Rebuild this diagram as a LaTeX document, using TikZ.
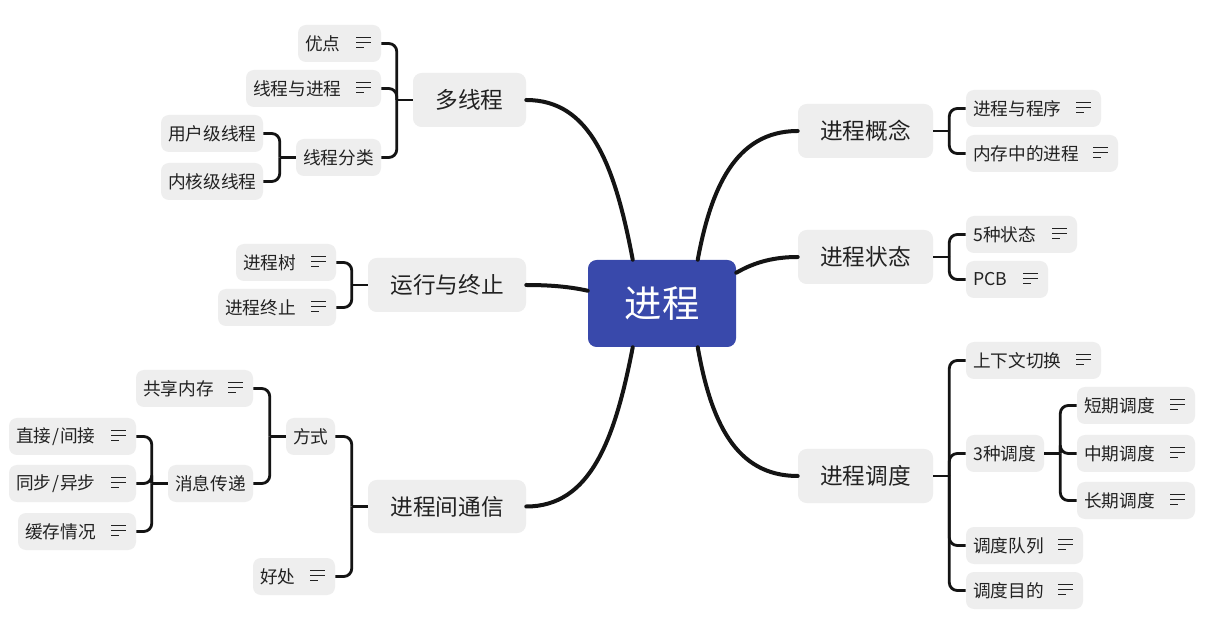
\documentclass[tikz,border=0pt]{standalone}
\usepackage{fontspec}
\setmainfont{Noto Sans CJK SC}
\usetikzlibrary{calc}
\definecolor{rootblue}{HTML}{3949AB}
\definecolor{boxgrey}{HTML}{EEEEEE}
\definecolor{inkline}{HTML}{141414}
\definecolor{inktext}{HTML}{222222}
\tikzset{
  anybox/.style={rounded corners=6.5pt,inner xsep=0pt,inner ysep=0pt,text=inktext,fill=boxgrey},
  rootbox/.style={anybox,fill=rootblue,text=white,font=\fontsize{28}{32}\selectfont},
  mainbox/.style={anybox,font=\fontsize{17}{20}\selectfont},
  leafbox/.style={anybox,rounded corners=6pt,font=\fontsize{13.25}{16}\selectfont},
  curveline/.style={draw=inkline,line width=3pt,line cap=round},
  brkline/.style={draw=inkline,line width=2.1pt,rounded corners=6pt},
  iconline/.style={draw=inktext,line width=1pt},
}
% style, name, x0, y0, x1, y1, alignment (l/c), text
\newcommand{\bx}[8]{%
  \pgfmathsetmacro\bxw{(#5-#3)*0.75}%
  \pgfmathsetmacro\bxh{(#6-#4)*0.75}%
  \pgfmathsetmacro\bxt{\bxw-10.8}%
  \node[#1,minimum width=\bxw pt,minimum height=\bxh pt] (#2) at ({(#3+#5)/2},{(#4+#6)/2}) {\raisebox{-0.5pt}{\makebox[\bxt pt][#7]{#8}}};%
}
\newcommand{\ic}[1]{%
  \draw[iconline] ($(#1.east)+(-25,-6)$) -- ($(#1.east)+(-10,-6)$);
  \draw[iconline] ($(#1.east)+(-25,-1)$) -- ($(#1.east)+(-10,-1)$);
  \draw[iconline] ($(#1.east)+(-25,4.2)$) -- ($(#1.east)+(-17,4.2)$);
}
% bracket to the right of a parent
\newcommand{\brkR}[2]{%
  \coordinate (sp) at ($(#1.east)+(16,0)$);
  \draw[brkline] (#1.east) -- (sp);
  \foreach \c in {#2} {\draw[brkline] (sp) |- (\c.west);}
}
% bracket to the left of a parent
\newcommand{\brkL}[2]{%
  \coordinate (sp) at ($(#1.west)+(-16,0)$);
  \draw[brkline] (#1.west) -- (sp);
  \foreach \c in {#2} {\draw[brkline] (sp) |- (\c.east);}
}
\begin{document}
\begin{tikzpicture}[x=0.75pt,y=-0.75pt]
\path[fill=white,use as bounding box] (0,0) rectangle (1207,641);
% root and main branches
\bx{rootbox}{root}{588}{260}{736}{347}{c}{进程}
\bx{mainbox}{gn}{798}{104}{933}{158}{c}{进程概念}
\bx{mainbox}{zt}{798}{230}{933}{284}{c}{进程状态}
\bx{mainbox}{dd}{798}{449}{933}{503}{c}{进程调度}
\bx{mainbox}{dx}{413}{73}{526}{127}{c}{多线程}
\bx{mainbox}{yx}{368}{258}{526}{312}{c}{运行与终止}
\bx{mainbox}{tx}{368}{480}{526}{533}{c}{进程间通信}
% leaves, right side
\bx{leafbox}{a1}{966}{90}{1101}{127}{l}{进程与程序}
\bx{leafbox}{a2}{966}{135}{1118}{172}{l}{内存中的进程}
\bx{leafbox}{b1}{966}{216}{1077}{253}{l}{5种状态}
\bx{leafbox}{b2}{966}{261}{1048}{298}{l}{PCB}
\bx{leafbox}{c1}{966}{342}{1101}{379}{l}{上下文切换}
\bx{leafbox}{c2}{966}{435}{1044}{472}{l}{3种调度}
\bx{leafbox}{c3}{966}{527}{1083}{564}{l}{调度队列}
\bx{leafbox}{c4}{966}{572}{1083}{609}{l}{调度目的}
\bx{leafbox}{d1}{1077}{387}{1195}{424}{l}{短期调度}
\bx{leafbox}{d2}{1077}{435}{1195}{472}{l}{中期调度}
\bx{leafbox}{d3}{1077}{482}{1195}{519}{l}{长期调度}
% leaves, left side
\bx{leafbox}{e1}{298}{25}{381}{62}{l}{优点}
\bx{leafbox}{e2}{246}{70}{381}{107}{l}{线程与进程}
\bx{leafbox}{e3}{296}{139}{381}{176}{l}{线程分类}
\bx{leafbox}{f1}{161}{115}{263}{152}{l}{用户级线程}
\bx{leafbox}{f2}{161}{163}{263}{200}{l}{内核级线程}
\bx{leafbox}{g1}{236}{244}{336}{281}{l}{进程树}
\bx{leafbox}{g2}{218}{289}{336}{326}{l}{进程终止}
\bx{leafbox}{h1}{286}{418}{335}{455}{l}{方式}
\bx{leafbox}{h2}{253}{558}{335}{595}{l}{好处}
\bx{leafbox}{i1}{136}{370}{253}{407}{l}{共享内存}
\bx{leafbox}{i2}{168}{465}{253}{502}{l}{消息传递}
\bx{leafbox}{j1}{9}{418}{136}{455}{l}{直接\kern0.6pt/\kern0.6pt间接}
\bx{leafbox}{j2}{9}{465}{136}{502}{l}{同步\kern0.6pt/\kern0.6pt异步}
\bx{leafbox}{j3}{18}{513}{136}{550}{l}{缓存情况}
% note icons
\foreach \n in {a1,a2,b1,b2,c1,c3,c4,d1,d2,d3,e1,e2,g1,g2,h2,i1,j1,j2,j3} {\ic{\n}}
% curved main connectors
\draw[curveline] ($(root.north west)+(110,0)$) .. controls +(13,-70) and +(-63,0) .. (gn.west);
\draw[curveline] ($(root.north east)+(0,13)$) .. controls +(19,-11) and +(-23,0) .. (zt.west);
\draw[curveline] ($(root.south west)+(110,0)$) .. controls +(13,73) and +(-63,0) .. (dd.west);
\draw[curveline] ($(root.north west)+(45,0)$) .. controls +(-18,-95) and +(64,0) .. (dx.east);
\draw[curveline] ($(root.north west)+(0,31)$) .. controls +(-18,-4) and +(24,0) .. (yx.east);
\draw[curveline] ($(root.south west)+(45,0)$) .. controls +(-18,93) and +(64,0) .. (tx.east);
% brackets
\brkR{gn}{a1,a2}
\brkR{zt}{b1,b2}
\brkR{dd}{c1,c2,c3,c4}
\brkR{c2}{d1,d2,d3}
\brkL{dx}{e1,e2,e3}
\brkL{e3}{f1,f2}
\brkL{yx}{g1,g2}
\brkL{tx}{h1,h2}
\brkL{h1}{i1,i2}
\brkL{i2}{j1,j2,j3}
\end{tikzpicture}
\end{document}
